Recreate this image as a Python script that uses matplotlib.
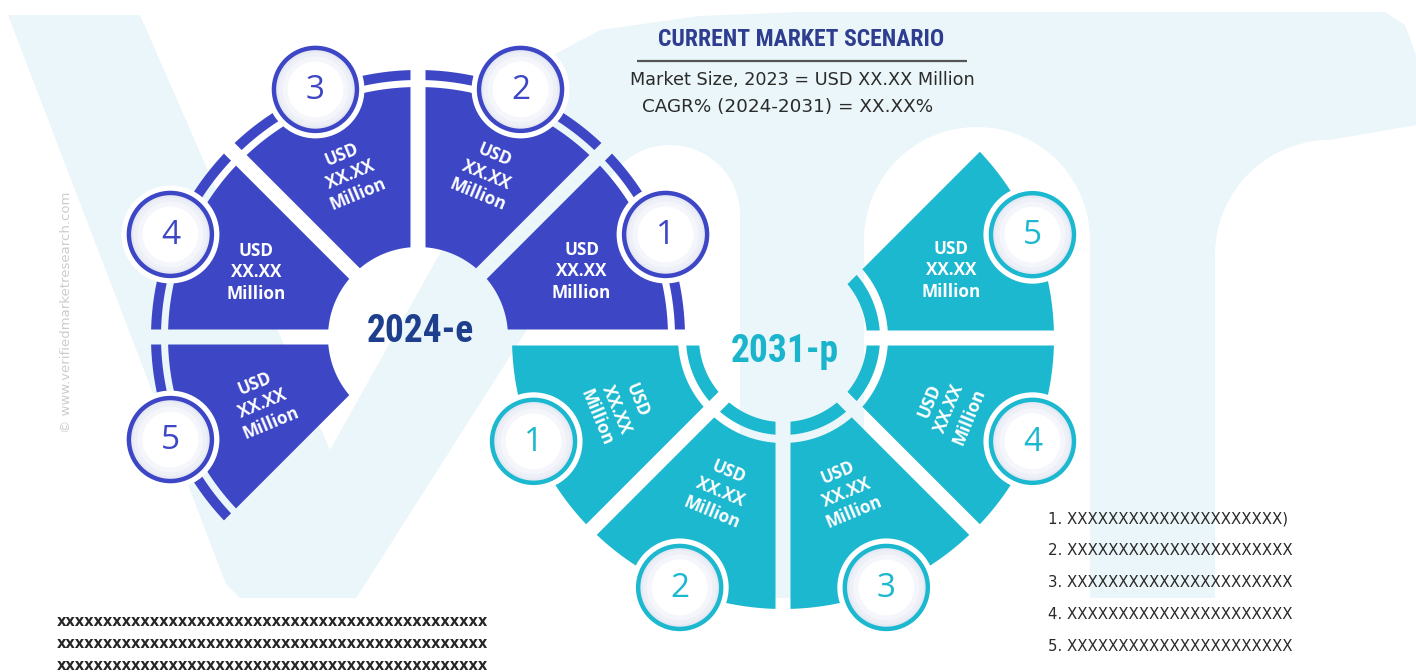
import numpy as np
import matplotlib
matplotlib.use("Agg")
import matplotlib.pyplot as plt
from matplotlib.patches import Polygon, Circle
from matplotlib import font_manager as fm

# ---------------- data ----------------
periods = ["2024-e", "2031-p"]
segment_ids = ["1", "2", "3", "4", "5"]
segment_shares = [1, 1, 1, 1, 1]
segment_values_2024 = ["USD\nXX.XX\nMillion"] * 5
segment_values_2031 = ["USD\nXX.XX\nMillion"] * 5
title_text = "CURRENT MARKET SCENARIO"
market_size_text = "Market Size, 2023 = USD XX.XX Million"
cagr_text = "CAGR% (2024-2031) = XX.XX%"
legend_items = [
    "1. XXXXXXXXXXXXXXXXXXXXX)",
    "2. XXXXXXXXXXXXXXXXXXXXXX",
    "3. XXXXXXXXXXXXXXXXXXXXXX",
    "4. XXXXXXXXXXXXXXXXXXXXXX",
    "5. XXXXXXXXXXXXXXXXXXXXXX",
]
footnote_lines = [
    "xxxxxxxxxxxxxxxxxxxxxxxxxxxxxxxxxxxxxxxxxxxxxx",
    "xxxxxxxxxxxxxxxxxxxxxxxxxxxxxxxxxxxxxxxxxxxxxx",
    "xxxxxxxxxxxxxxxxxxxxxxxxxxxxxxxxxxxxxxxxxxxxxx",
]
source_text = "© www.verifiedmarketresearch.com"

# ---------------- fonts ----------------
names = {f.name for f in fm.fontManager.ttflist}


def pick_condensed_bold():
    for fam in ["Roboto Condensed", "Liberation Sans Narrow", "Open Sans Condensed"]:
        for f in fm.fontManager.ttflist:
            if f.name == fam and f.weight in ("bold", 700, "heavy", 800):
                return fm.FontProperties(fname=f.fname)
    for f in fm.fontManager.ttflist:
        if str(f.stretch) in ("condensed", "semi-condensed", "extra-condensed") and f.weight in ("bold", 700):
            return fm.FontProperties(fname=f.fname)
    return None


cond = pick_condensed_bold()
body_family = [n for n in ["Open Sans", "Noto Sans", "DejaVu Sans"] if n in names] + ["DejaVu Sans"]

# ---------------- style ----------------
PALE = "#eaf6f9"
BLUE = "#3d47c6"
CYAN = "#1cb8cf"
GAP = 7.5

charts = [
    dict(cx=418, cy=337, start=0, ri=90, ro=250, ring=(257, 267), cr=268,
         color=BLUE, label_color="#1d3f8e", label_xy=(420, 331),
         text_r=[177, 178, 178, 175, 168], rot=[0, -22.5, 22.5, 0, 22.5],
         values=segment_values_2024),
    dict(cx=783, cy=338, start=180, ri=105, ro=271, ring=(84, 97), cr=270,
         color=CYAN, label_color="#1ab4cc", label_xy=(785, 352),
         text_r=[180, 165, 165, 180, 182], rot=[-67.5, -22.5, 22.5, 67.5, 0],
         values=segment_values_2031),
]

fig = plt.figure(figsize=(14.16, 6.72), dpi=100)
ax = fig.add_axes([0, 0, 1, 1])
ax.set_xlim(0, 1416)
ax.set_ylim(672, 0)
ax.axis("off")
fig.patch.set_facecolor("white")


def arc_pts(cx, cy, r, a0, a1, n=80):
    t = np.radians(np.linspace(a0, a1, n))
    return np.column_stack([cx + r * np.cos(t), cy - r * np.sin(t)])


def band(cx, cy, ri, ro, a0, a1, g):
    do = np.degrees(np.arcsin(g / ro))
    di = np.degrees(np.arcsin(g / ri))
    return np.vstack([arc_pts(cx, cy, ro, a0 + do, a1 - do),
                      arc_pts(cx, cy, ri, a1 - di, a0 + di)])


# ---------------- background watermark ----------------
base = [(8, 15), (140, 15), (330, 450), (520, 110), (548, 58), (600, 30), (700, 16),
        (800, 12), (1385, 12), (1405, 25), (1416, 55), (1416, 598), (360, 598),
        (240, 598), (226, 584)]
ax.add_patch(Polygon(base, closed=True, fc=PALE, ec="none", zorder=0))
c1 = np.vstack([[(355, 600)], arc_pts(670, 215, 70, 180, 0), [(740, 600)]])
ax.add_patch(Polygon(c1, closed=True, fc="white", ec="none", zorder=0.5))
c2 = np.vstack([[(864, 600)], arc_pts(977, 240, 113, 180, 0), [(1090, 600)]])
ax.add_patch(Polygon(c2, closed=True, fc="white", ec="none", zorder=0.5))
c3 = np.vstack([[(1215, 600), (1215, 255)], arc_pts(1330, 255, 115, 180, 90),
                [(1416, 125), (1416, 600)]])
ax.add_patch(Polygon(c3, closed=True, fc="white", ec="none", zorder=0.5))

# ---------------- charts ----------------
total = sum(segment_shares)
for ch, period in zip(charts, periods):
    cx, cy = ch["cx"], ch["cy"]
    a = ch["start"]
    for i, (sid, share) in enumerate(zip(segment_ids, segment_shares)):
        span = 225.0 * share / total
        a0, a1 = a, a + span
        mid = (a0 + a1) / 2
        ax.add_patch(Polygon(band(cx, cy, ch["ri"], ch["ro"], a0, a1, GAP),
                             closed=True, fc=ch["color"], ec="none", zorder=2))
        ax.add_patch(Polygon(band(cx, cy, ch["ring"][0], ch["ring"][1], a0, a1, GAP),
                             closed=True, fc=ch["color"], ec="none", zorder=2))
        # value text
        tr = ch["text_r"][i]
        tx = cx + tr * np.cos(np.radians(mid))
        ty = cy - tr * np.sin(np.radians(mid)) + 2
        ax.text(tx, ty, ch["values"][i], ha="center", va="center", ma="center",
                rotation=ch["rot"][i], rotation_mode="anchor", color="white",
                fontsize=12.3, fontweight="bold", family=body_family,
                linespacing=1.25, zorder=5)
        # numbered circle
        px = cx + ch["cr"] * np.cos(np.radians(mid))
        py = cy - ch["cr"] * np.sin(np.radians(mid))
        ax.add_patch(Circle((px, py), 49, fc="white", ec="none", zorder=3))
        for rr, col in [(40, "#e6e9f4"), (37, "#eef0f8"), (33, "#f5f6fb"), (28, "white")]:
            ax.add_patch(Circle((px, py), rr, fc=col, ec="none", zorder=3.5))
        ax.add_patch(Circle((px, py), 41.5, fc="none", ec=ch["color"], lw=3.2, zorder=4))
        ax.text(px, py + 1, sid, ha="center", va="center", color=ch["color"],
                fontsize=24, family=body_family, zorder=5)
        a = a1
    lx, ly = ch["label_xy"]
    if cond is not None:
        ax.text(lx, ly, period, ha="center", va="center", color=ch["label_color"],
                fontproperties=cond, fontsize=27, zorder=5)
    else:
        ax.text(lx, ly, period, ha="center", va="center", color=ch["label_color"],
                family=["Roboto", "DejaVu Sans"], fontweight="bold", fontsize=24, zorder=5)

# ---------------- header ----------------
if cond is not None:
    ax.text(801, 40, title_text, ha="center", va="center", color="#2e3d8f",
            fontproperties=cond, fontsize=17, zorder=5)
else:
    ax.text(801, 40, title_text, ha="center", va="center", color="#2e3d8f",
            family=["Roboto", "DejaVu Sans"], fontweight="bold", fontsize=14, zorder=5)
ax.plot([637, 967], [61, 61], color="#555555", lw=1.6, solid_capstyle="butt", zorder=5)
ax.text(802, 80, market_size_text, ha="center", va="center", color="#2b2b2b",
        fontsize=12.7, family=["DejaVu Sans"], zorder=5)
ax.text(788, 107, cagr_text, ha="center", va="center", color="#2b2b2b",
        fontsize=13.2, family=["DejaVu Sans"], zorder=5)

# ---------------- legend list ----------------
for k, item in enumerate(legend_items):
    ax.text(1048, 519 + 31.8 * k, item, ha="left", va="center", color="#2a2a2a",
            fontsize=10.8, family=["DejaVu Sans"], zorder=5)

# ---------------- footnote ----------------
for k, line in enumerate(footnote_lines):
    ax.text(57, 621 + 22 * k, line, ha="left", va="center", color="#262626",
            fontsize=10.5, fontweight="bold", family=["DejaVu Sans"], zorder=5)

# ---------------- source watermark ----------------
ax.text(66, 312, source_text, ha="center", va="center", rotation=90,
        color="#cccccc", fontsize=9.5, family=["DejaVu Sans"], zorder=1)

fig.savefig("out.png", dpi=100, facecolor="white")
